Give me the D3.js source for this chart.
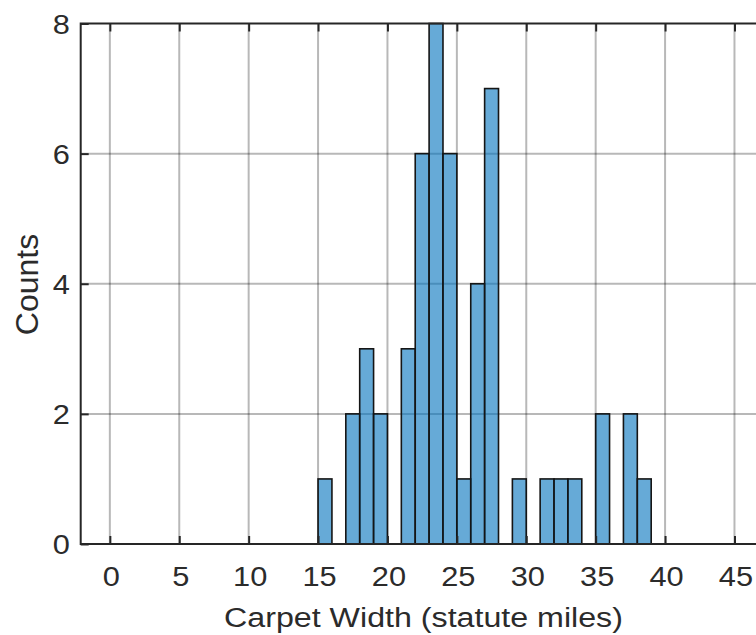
<!DOCTYPE html>
<html>
<head>
<meta charset="utf-8">
<script src="https://cdn.jsdelivr.net/npm/d3@7"></script>
<style>
  html, body { margin: 0; padding: 0; background: #fff; overflow: hidden; }
  svg { display: block; }
  text { font-family: "Liberation Sans", Arial, Helvetica, sans-serif; fill: #2b2b2b; }
</style>
</head>
<body>
<svg id="chart" width="756" height="635"></svg>
<script>
// Histogram bins: lower edge of each unit-wide bin and its count
const binLower = [15, 16, 17, 18, 19, 20, 21, 22, 23, 24, 25, 26, 27, 28, 29, 30, 31, 32, 33, 34, 35, 36, 37, 38];
const binCounts = [1, 0, 2, 3, 2, 0, 3, 6, 8, 6, 1, 4, 7, 0, 1, 0, 1, 1, 1, 0, 2, 0, 2, 1];
const binWidth = 1;

// Axis ticks
const xTicks = [0, 5, 10, 15, 20, 25, 30, 35, 40, 45];
const yTicks = [0, 2, 4, 6, 8];

const xLabel = "Carpet Width (statute miles)";
const yLabel = "Counts";

const svg = d3.select("#chart");

// Plot box (right edge runs past the visible area)
const plotL = 80.7, plotR = 766.4, plotT = 23.5, plotB = 544;
const x = d3.scaleLinear().domain([-2.1, 47.3]).range([plotL, plotR]);
const y = d3.scaleLinear().domain([0, 8]).range([plotB, plotT]);

const axisColor = "#262626";
const tickLen = 8;
const sx = 1.12; // horizontal glyph stretch

// Grid lines
const grid = svg.append("g");
grid.selectAll("line.vg").data(xTicks).enter().append("line")
  .attr("x1", d => x(d)).attr("x2", d => x(d))
  .attr("y1", plotT).attr("y2", plotB)
  .attr("stroke", "#000").attr("stroke-opacity", 0.28).attr("stroke-width", 2);
grid.selectAll("line.hg").data(yTicks.filter(d => d > 0 && d < 8)).enter().append("line")
  .attr("x1", plotL).attr("x2", plotR)
  .attr("y1", d => y(d)).attr("y2", d => y(d))
  .attr("stroke", "#000").attr("stroke-opacity", 0.28).attr("stroke-width", 2);

// Bars
const bins = binLower.map((b, i) => ({ x0: b, x1: b + binWidth, n: binCounts[i] }))
  .filter(d => d.n > 0);
svg.append("g").selectAll("rect").data(bins).enter().append("rect")
  .attr("x", d => x(d.x0))
  .attr("width", d => x(d.x1) - x(d.x0))
  .attr("y", d => y(d.n))
  .attr("height", d => y(0) - y(d.n))
  .attr("fill", "#0072BD").attr("fill-opacity", 0.6)
  .attr("stroke", "#151515").attr("stroke-width", 1.6);

// Axes box with inward ticks
const ax = svg.append("g");
const bottomAxis = d3.axisBottom(x).tickValues(xTicks).tickSize(-tickLen).tickFormat("");
const topAxis = d3.axisTop(x).tickValues(xTicks).tickSize(-tickLen).tickFormat("");
const leftAxis = d3.axisLeft(y).tickValues(yTicks).tickSize(-tickLen).tickFormat("");

ax.append("g").attr("transform", `translate(0,${plotB})`).call(bottomAxis);
ax.append("g").attr("transform", `translate(0,${plotT})`).call(topAxis);
ax.append("g").attr("transform", `translate(${plotL},0)`).call(leftAxis);
ax.selectAll("path.domain").remove();
ax.selectAll(".tick line").attr("stroke", axisColor).attr("stroke-width", 2);

ax.append("rect")
  .attr("x", plotL).attr("y", plotT)
  .attr("width", plotR - plotL).attr("height", plotB - plotT)
  .attr("fill", "none").attr("stroke", axisColor).attr("stroke-width", 2);

// Tick labels
svg.append("g").selectAll("text").data(xTicks).enter().append("text")
  .attr("transform", d => `translate(${x(d) + 1.5},586) scale(${sx},1)`)
  .attr("text-anchor", "middle")
  .attr("font-size", 27.5)
  .text(d => d);

svg.append("g").selectAll("text").data(yTicks).enter().append("text")
  .attr("transform", d => `translate(70,${y(d) + 10}) scale(${sx},1)`)
  .attr("text-anchor", "end")
  .attr("font-size", 27.5)
  .text(d => d);

// Axis titles
svg.append("text")
  .attr("transform", `translate(423.5,627) scale(1.15,1)`)
  .attr("text-anchor", "middle")
  .attr("font-size", 28)
  .text(xLabel);

svg.append("text")
  .attr("transform", `translate(38,284.5) rotate(-90)`)
  .attr("text-anchor", "middle")
  .attr("font-size", 32)
  .text(yLabel);
</script>
</body>
</html>
